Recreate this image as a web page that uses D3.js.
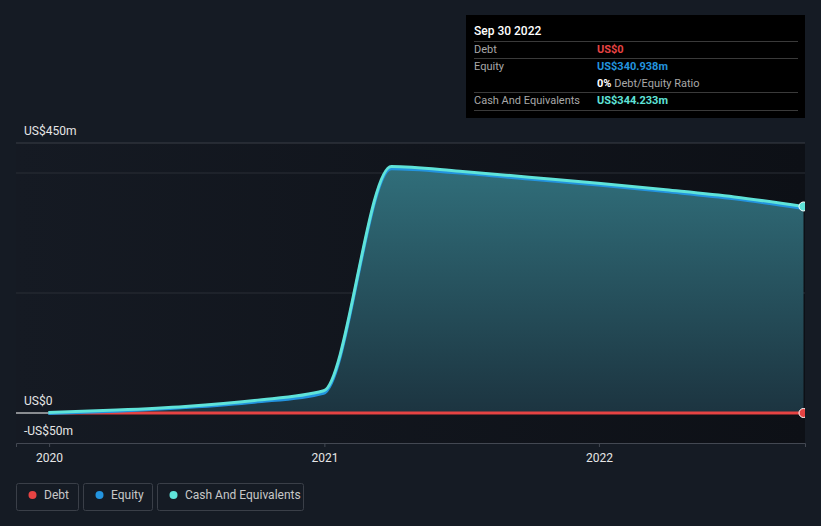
<!DOCTYPE html>
<html>
<head>
<meta charset="utf-8">
<script src="https://cdn.jsdelivr.net/npm/d3@7"></script>
<style>
    body { margin: 0; background: #151b24; font-family: Roboto, "Noto Sans", sans-serif; }
    svg { display: block; }
</style>
</head>
<body>
<svg id="chart"></svg>
<script>
// quarterly balance sheet dates and values (US$ m)
const dates = ['2019-12-31', '2020-03-31', '2020-06-30', '2020-09-30', '2020-12-31',
    '2021-03-31', '2021-06-30', '2021-09-30', '2021-12-31',
    '2022-03-31', '2022-06-30', '2022-09-30'];
const debt = [0, 0, 0, 0, 0, 0, 0, 0, 0, 0, 0, 0];
const equity = [-1, 3, 9, 18, 33, 407, 400, 390, 380, 369, 357, 340.938];
const cash = [1, 5, 11, 21, 37, 411, 403, 393, 383, 372, 360, 344.233];
const yTicks = [-50, 0, 450];
const yLabels = ['-US$50m', 'US$0', 'US$450m'];
const gridValues = [200, 400, 450];
const xTicks = ['2020-01-01', '2021-01-01', '2022-01-01'];

const legendItems = [
    { key: 'Debt', color: '#e64343' },
    { key: 'Equity', color: '#2394df' },
    { key: 'Cash And Equivalents', color: '#5fe3d9' }
];

class DebtChart {
    constructor(_config) {
        this.config = {
            parentElement: _config.parentElement,
            containerWidth: _config.containerWidth || 821,
            containerHeight: _config.containerHeight || 526,
            margin: { top: 143, bottom: 83, right: 16, left: 16 }
        }
        this.initVis();
    }
    initVis() {
        let vis = this;
        vis.width = vis.config.containerWidth - vis.config.margin.left - vis.config.margin.right;
        vis.height = vis.config.containerHeight - vis.config.margin.top - vis.config.margin.bottom;

        vis.svg = d3.select(vis.config.parentElement)
            .attr('width', vis.config.containerWidth)
            .attr('height', vis.config.containerHeight);

        let parse = d3.timeParse('%Y-%m-%d');
        vis.data = dates.map((d, i) => ({ date: parse(d), debt: debt[i], equity: equity[i], cash: cash[i] }));

        vis.xScale = d3.scaleTime()
            .domain([parse('2018-11-17'), parse('2022-10-01')])
            .range([0, vis.width]);
        // the chart starts a bit before 2020 so 2020 sits at x ~49
        vis.xScale.domain([d3.timeDay.offset(parse('2020-01-01'), -44), parse('2022-10-02')]);
        vis.yScale = d3.scaleLinear().domain([-50, 450]).range([vis.height, 0]);

        vis.chart = vis.svg.append('g')
            .attr('transform', `translate(${vis.config.margin.left},${vis.config.margin.top})`);

        vis.updateVis();
    }

    updateVis() {
        let vis = this;
        let defs = vis.svg.append('defs');
        let bg = defs.append('linearGradient').attr('id', 'bgGrad')
            .attr('x1', 0).attr('x2', 1).attr('y1', 0).attr('y2', 0);
        bg.append('stop').attr('offset', 0).attr('stop-color', '#151a23');
        bg.append('stop').attr('offset', 1).attr('stop-color', '#0d1016');

        let fill = defs.append('linearGradient').attr('id', 'areaGrad')
            .attr('gradientUnits', 'userSpaceOnUse')
            .attr('x1', 0).attr('x2', 0).attr('y1', vis.yScale(420)).attr('y2', vis.yScale(0));
        fill.append('stop').attr('offset', 0).attr('stop-color', '#31707c');
        fill.append('stop').attr('offset', 1).attr('stop-color', '#1c3440');

        defs.append('clipPath').attr('id', 'plotClip')
            .append('rect').attr('x', 0).attr('y', -10).attr('width', vis.width).attr('height', vis.height + 10);

        vis.chart.append('rect')
            .attr('width', vis.width).attr('height', vis.height)
            .attr('fill', 'url(#bgGrad)');

        // grid lines
        vis.chart.selectAll('.grid')
            .data(gridValues)
            .enter()
            .append('line')
            .attr('class', 'grid')
            .attr('x1', 0).attr('x2', vis.width)
            .attr('y1', d => vis.yScale(d)).attr('y2', d => vis.yScale(d))
            .attr('stroke', d => d === 450 ? '#3a3f47' : '#2a2f37')
            .attr('stroke-width', 1);

        // bottom axis
        let xAxis = d3.axisBottom(vis.xScale)
            .tickValues(xTicks.map(d => d3.timeParse('%Y-%m-%d')(d)))
            .tickFormat(d3.timeFormat('%Y'))
            .tickSize(4)
            .tickPadding(6);
        let xAxisG = vis.chart.append('g')
            .attr('class', 'axis x-axis')
            .attr('transform', `translate(0,${vis.height})`)
            .call(xAxis);
        xAxisG.select('.domain').attr('stroke', '#434852');
        xAxisG.selectAll('.tick line').attr('stroke', '#434852');
        xAxisG.selectAll('text').attr('fill', '#e6e6e6').style('font-size', '12px')
            .style('font-family', 'Roboto, sans-serif');

        let plot = vis.chart.append('g').attr('clip-path', 'url(#plotClip)');

        let area = d3.area()
            .curve(d3.curveMonotoneX)
            .x(d => vis.xScale(d.date))
            .y0(vis.yScale(0))
            .y1(d => vis.yScale(d.cash));
        plot.append('path')
            .datum(vis.data)
            .attr('d', area)
            .attr('fill', 'url(#areaGrad)');

        // zero line
        plot.append('line')
            .attr('x1', 0).attr('x2', vis.width)
            .attr('y1', vis.yScale(0)).attr('y2', vis.yScale(0))
            .attr('stroke', '#ffffff').attr('stroke-width', 1);

        let series = [
            { key: 'debt', color: '#e64343' },
            { key: 'equity', color: '#2394df' },
            { key: 'cash', color: '#5fe3d9' }
        ];
        series.forEach(s => {
            let line = d3.line()
                .curve(d3.curveMonotoneX)
                .x(d => vis.xScale(d.date))
                .y(d => vis.yScale(d[s.key]));
            plot.append('path')
                .datum(vis.data)
                .attr('d', line)
                .attr('fill', 'none')
                .attr('stroke', s.color)
                .attr('stroke-width', 3);
        });

        // end dots
        let last = vis.data[vis.data.length - 1];
        [{ key: 'debt', color: '#e64343' }, { key: 'cash', color: '#5fe3d9' }].forEach(s => {
            plot.append('circle')
                .attr('cx', vis.xScale(last.date))
                .attr('cy', vis.yScale(last[s.key]))
                .attr('r', 4.5)
                .attr('fill', s.color)
                .attr('stroke', '#ffffff')
                .attr('stroke-width', 1);
        });

        // y labels
        vis.svg.selectAll('.ylabel')
            .data(yTicks)
            .enter()
            .append('text')
            .attr('class', 'ylabel')
            .attr('x', 24)
            .attr('y', d => vis.config.margin.top + vis.yScale(d) - 8)
            .attr('fill', '#e6e6e6')
            .style('font-size', '12px')
            .text((d, i) => yLabels[i]);

        vis.drawTooltip();
        vis.drawLegend();
    }

    drawTooltip() {
        let vis = this;
        let g = vis.svg.append('g').attr('transform', 'translate(466,15)');
        g.append('rect').attr('width', 339).attr('height', 103).attr('fill', '#000000');
        g.append('text').attr('x', 8).attr('y', 20).attr('fill', '#ffffff')
            .style('font-size', '12px').style('font-weight', 500).text('Sep 30 2022');
        let seps = [26, 43, 77, 95];
        g.selectAll('.sep').data(seps).enter().append('line')
            .attr('x1', 8).attr('x2', 332)
            .attr('y1', d => d + 0.5).attr('y2', d => d + 0.5)
            .attr('stroke', '#3a3a3a');
        let rows = [
            { label: 'Debt', value: 'US$0', color: '#e64343', y: 38 },
            { label: 'Equity', value: 'US$340.938m', color: '#2394df', y: 55 },
            { label: 'Cash And Equivalents', value: 'US$344.233m', color: '#5fe3d9', y: 89 }
        ];
        rows.forEach(r => {
            g.append('text').attr('x', 8).attr('y', r.y).attr('fill', '#a8a8a8')
                .style('font-size', '11px').text(r.label);
            g.append('text').attr('x', 131).attr('y', r.y).attr('fill', r.color)
                .style('font-size', '11px').style('font-weight', 700).text(r.value);
        });
        let ratio = g.append('text').attr('x', 131).attr('y', 72).style('font-size', '11px');
        ratio.append('tspan').attr('fill', '#ffffff').style('font-weight', 700).text('0%');
        ratio.append('tspan').attr('fill', '#a8a8a8').text(' Debt/Equity Ratio');
    }

    drawLegend() {
        let vis = this;
        let widths = [62, 69, 146];
        let x = 16;
        legendItems.forEach((d, i) => {
            let g = vis.svg.append('g').attr('transform', `translate(${x},483)`);
            g.append('rect').attr('x', 0.5).attr('y', 0.5)
                .attr('width', widths[i]).attr('height', 27).attr('rx', 2)
                .attr('fill', 'none').attr('stroke', '#3a3f48');
            g.append('circle').attr('cx', 16.5).attr('cy', 12).attr('r', 4).attr('fill', d.color);
            g.append('text').attr('x', 28).attr('y', 16).attr('fill', '#c8c8c8')
                .style('font-size', '12px').text(d.key);
            x += widths[i] + 5;
        });
    }
}

let chart = new DebtChart({ parentElement: '#chart' });
</script>
</body>
</html>
